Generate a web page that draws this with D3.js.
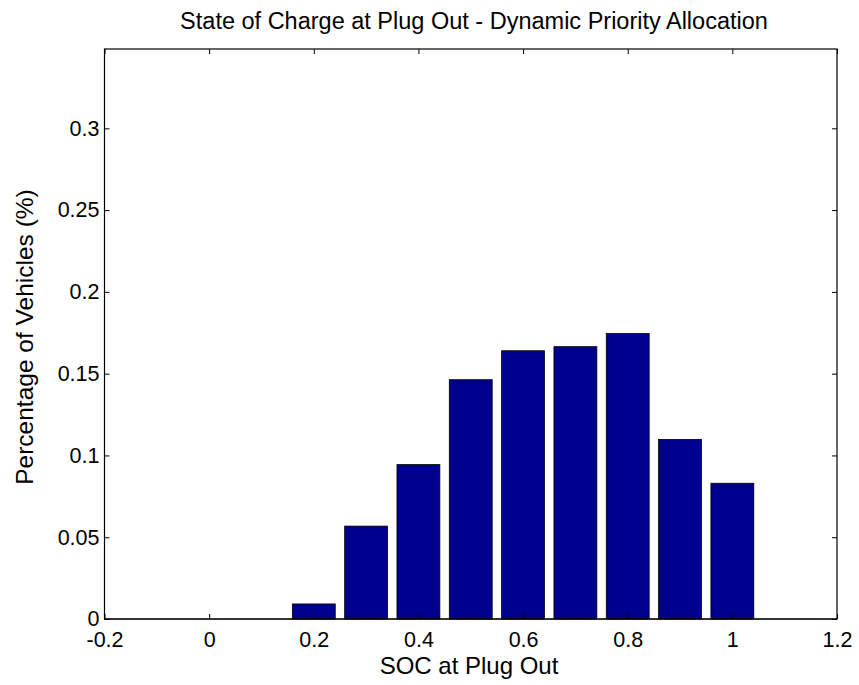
<!DOCTYPE html>
<html><head><meta charset="utf-8">
<script src="https://cdn.jsdelivr.net/npm/d3@7"></script>
<style>body{margin:0;background:#fff}svg{display:block;font-family:"Liberation Sans",Arial,sans-serif}</style>
</head><body>
<script>
const socBins = [0, 0.1, 0.2, 0.3, 0.4, 0.5, 0.6, 0.7, 0.8, 0.9, 1.0];
const pctVehicles = [0, 0, 0.0092, 0.0568, 0.0944, 0.1463, 0.164, 0.1665, 0.1745, 0.1098, 0.083];
const xTicks = [-0.2, 0, 0.2, 0.4, 0.6, 0.8, 1, 1.2];
const yTicks = [0, 0.05, 0.1, 0.15, 0.2, 0.25, 0.3];
const title = "State of Charge at Plug Out - Dynamic Priority Allocation";
const xLabel = "SOC at Plug Out";
const yLabel = "Percentage of Vehicles (%)";

const W = 859, H = 685;
const L = 104.5, R = 837, T = 49, B = 619;
const svg = d3.select("body").append("svg").attr("width", W).attr("height", H);
const x = d3.scaleLinear().domain([-0.2, 1.2]).range([L, R]);
const y = d3.scaleLinear().domain([0, 0.3485]).range([B, T]);
const bw = x(0.082) - x(0);

svg.append("g").selectAll("rect").data(socBins.map((s, i) => [s, pctVehicles[i]]).filter(d => d[1] > 0))
  .join("rect")
  .attr("x", d => x(d[0]) - bw / 2).attr("width", bw)
  .attr("y", d => y(d[1])).attr("height", d => y(0) - y(d[1]))
  .attr("fill", "#00008f").attr("stroke", "#000").attr("stroke-width", 0.8);

svg.append("line").attr("x1", L).attr("x2", R).attr("y1", B).attr("y2", B).attr("stroke", "#000");

const tl = 5;
const fmt = d => String(d);
const gx = svg.append("g").attr("transform", `translate(0,${B})`)
  .call(d3.axisBottom(x).tickValues(xTicks).tickFormat(fmt).tickSizeInner(-tl).tickSizeOuter(0).tickPadding(13));
const gxt = svg.append("g").attr("transform", `translate(0,${T})`)
  .call(d3.axisTop(x).tickValues(xTicks).tickFormat("").tickSizeInner(-tl).tickSizeOuter(0));
const gy = svg.append("g").attr("transform", `translate(${L},0)`)
  .call(d3.axisLeft(y).tickValues(yTicks).tickFormat(fmt).tickSizeInner(-tl).tickSizeOuter(0).tickPadding(5));
const gyr = svg.append("g").attr("transform", `translate(${R},0)`)
  .call(d3.axisRight(y).tickValues(yTicks).tickFormat("").tickSizeInner(-tl).tickSizeOuter(0));
[gx, gxt, gy, gyr].forEach(g => {
  g.select(".domain").remove();
  g.selectAll("line").attr("stroke", "#000");
  g.selectAll("text").attr("font-size", 21.5).attr("fill", "#000").style("font-family", '"Liberation Sans",Arial,sans-serif');
});
gx.selectAll("text").attr("dy", "0.71em");

svg.append("rect").attr("x", L).attr("y", T).attr("width", R - L).attr("height", B - T)
  .attr("fill", "none").attr("stroke", "#000").attr("stroke-width", 1.2);

svg.append("text").attr("x", 474).attr("y", 29).attr("text-anchor", "middle")
  .attr("font-size", 23.5).text(title);
svg.append("text").attr("x", 469).attr("y", 674).attr("text-anchor", "middle")
  .attr("font-size", 24).text(xLabel);
svg.append("text").attr("transform", `translate(33,337) rotate(-90)`).attr("text-anchor", "middle")
  .attr("font-size", 24.5).text(yLabel);
</script>
</body></html>
